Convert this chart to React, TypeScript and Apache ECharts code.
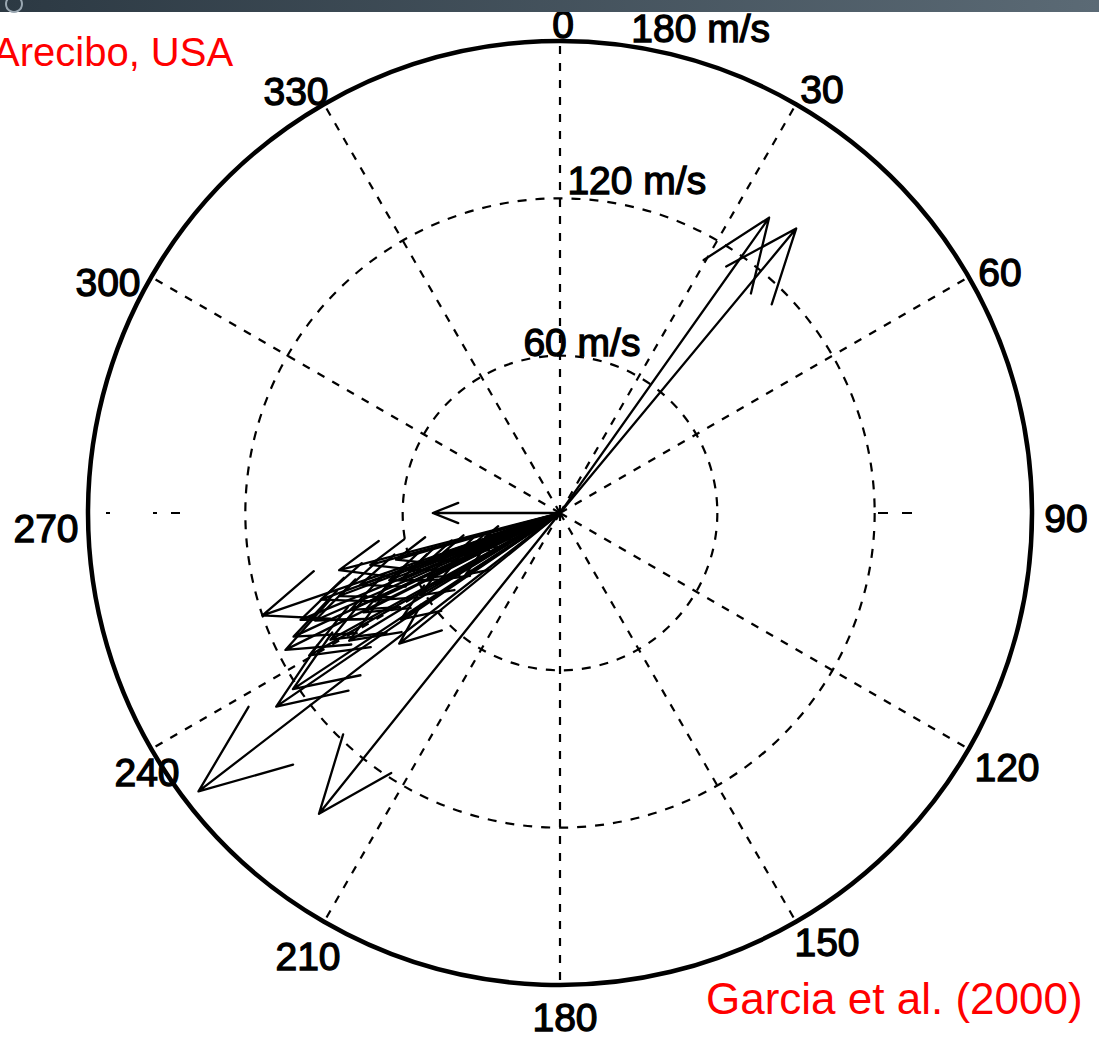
import React, { useEffect, useRef } from "react";
import * as echarts from "echarts";

// Wind vectors: direction in degrees clockwise from north, speed in m/s
const windDirection = [
  35.3, 39.7, 270, 232.4, 218.7, 235.7, 236.6, 251.0, 243.5, 230.9,
  245.1, 247.6, 250.1, 241.1, 245.2, 250.2, 244.8, 248.5, 236.2, 249.2,
  239.6, 250.1, 240.8, 248.2, 236.9, 246.4, 255.5, 254.7, 240.4, 254.1,
  238.8, 245.8, 248.0, 251.3, 244.0, 252.2, 247.1, 243.2, 249.4, 246.3,
];
const windSpeed = [
  138, 141, 48.5, 174, 147, 131, 122, 120, 117, 79,
  112, 107, 97, 100, 88, 81, 78, 70, 73, 61,
  62, 53, 52, 43, 43, 33, 87, 75, 110, 65,
  94, 25, 38, 47, 56, 30, 66, 84, 90, 102,
];

// Polar grid
const spokeAngles = [0, 30, 60, 90, 120, 150, 180, 210, 240, 270, 300, 330];
const angleLabels = ["0", "30", "60", "90", "120", "150", "180", "210", "240", "270", "300", "330"];
const ringSpeeds = [60, 120, 180];
const ringLabels = ["60 m/s", "120 m/s", "180 m/s"];
const maxSpeed = 180;

// Layout
const W = 1099;
const H = 1038;
const CX = 560;
const CY = 513;
const R = 472;
const LABEL_R = 500;
const angleLabelNudge: [number, number][] = [
  [3, 11], [12, 10], [7, 9], [6, 5], [14, 4], [17, -4],
  [5, 4], [-2, 10], [20, 9], [-14, 15], [-19, 19], [-14, 12],
];
const ringLabelNudge: [number, number][] = [[0, -15], [33, -21], [75, -17]];

// the east-west spoke is only faintly printed: a few dashes near the rim
const faintDash: Record<number, number[]> = {
  90: [0, 318, 10, 14, 10, 400],
  270: [0, 380, 9, 14, 4, 43, 4, 400],
};

const FONT = "'Liberation Sans', Arial, Helvetica, sans-serif";

export default function App() {
  const ref = useRef<HTMLDivElement>(null);

  useEffect(() => {
    if (!ref.current) return;
    const chart = echarts.init(ref.current, undefined, { renderer: "svg" });

    const arrowData = windDirection.map((d, i) => [windSpeed[i], d]);
    const spokeData = spokeAngles.map((a) => [maxSpeed, a]);

    const blackText = (txt: string, x: number, y: number) => ({
      type: "text",
      x,
      y,
      z: 10,
      style: {
        text: txt,
        fill: "#000",
        font: `39px ${FONT}`,
        align: "center",
        verticalAlign: "middle",
        stroke: "#000",
        lineWidth: 1.3,
      },
    });

    const labelTexts: any[] = angleLabels.map((txt, i) => {
      const a = (spokeAngles[i] * Math.PI) / 180;
      const [nx, ny] = angleLabelNudge[i];
      return blackText(
        txt,
        CX + LABEL_R * Math.sin(a) + nx,
        CY - LABEL_R * Math.cos(a) + ny
      );
    });

    const ringTexts: any[] = ringLabels.map((txt, i) => {
      const a = (8 * Math.PI) / 180;
      const r = (ringSpeeds[i] / maxSpeed) * R;
      const [nx, ny] = ringLabelNudge[i];
      return blackText(txt, CX + r * Math.sin(a) + nx, CY - r * Math.cos(a) + ny);
    });

    chart.setOption({
      animation: false,
      backgroundColor: "#ffffff",
      polar: { center: [CX, CY], radius: R },
      angleAxis: {
        type: "value",
        min: 0,
        max: 360,
        interval: 30,
        startAngle: 90,
        clockwise: true,
        axisLine: { show: true, lineStyle: { color: "#000", width: 4.5 } },
        axisTick: { show: false },
        axisLabel: { show: false },
        splitLine: { show: false },
      },
      radiusAxis: {
        type: "value",
        min: 0,
        max: maxSpeed,
        interval: 60,
        axisLine: { show: false },
        axisTick: { show: false },
        axisLabel: { show: false },
        splitLine: {
          show: true,
          lineStyle: { color: "#000", width: 2.2, type: [9, 9] },
        },
      },
      series: [
        {
          type: "custom",
          name: "spokes",
          coordinateSystem: "polar",
          silent: true,
          z: 1,
          data: spokeData,
          renderItem: (_p: any, api: any) => {
            const a = api.value(1);
            const o = api.coord([0, a]);
            const t = api.coord([api.value(0), a]);
            return {
              type: "line",
              shape: { x1: o[0], y1: o[1], x2: t[0], y2: t[1] },
              style: {
                stroke: "#000",
                lineWidth: 2.2,
                lineDash: faintDash[a] || [8, 9],
              },
            };
          },
        },
        {
          type: "custom",
          name: "wind",
          coordinateSystem: "polar",
          silent: true,
          z: 3,
          data: arrowData,
          renderItem: (_p: any, api: any) => {
            const r = api.value(0);
            const a = api.value(1);
            const o = api.coord([0, a]);
            const t = api.coord([r, a]);
            const dx = t[0] - o[0];
            const dy = t[1] - o[1];
            // compass-style head: barbs at 80% of the length, 8% off axis
            const b1 = [o[0] + 0.8 * dx - 0.08 * dy, o[1] + 0.8 * dy + 0.08 * dx];
            const b2 = [o[0] + 0.8 * dx + 0.08 * dy, o[1] + 0.8 * dy - 0.08 * dx];
            return {
              type: "polyline",
              shape: { points: [o, t, b1, t, b2] },
              style: {
                stroke: "#000",
                lineWidth: 2.3,
                fill: null,
                lineJoin: "round",
                lineCap: "round",
              },
            };
          },
        },
      ],
      graphic: [
        ...labelTexts,
        ...ringTexts,
        {
          type: "text",
          x: -7,
          y: 52,
          z: 10,
          style: {
            text: "Arecibo, USA",
            fill: "#ff0000",
            font: `40px ${FONT}`,
            align: "left",
            verticalAlign: "middle",
          },
        },
        {
          type: "text",
          x: 706,
          y: 998,
          z: 10,
          style: {
            text: "Garcia et al. (2000)",
            fill: "#ff0000",
            font: `44px ${FONT}`,
            align: "left",
            verticalAlign: "middle",
          },
        },
        {
          type: "rect",
          z: 20,
          shape: { x: 0, y: 0, width: W, height: 12 },
          style: {
            fill: new echarts.graphic.LinearGradient(0, 0, 1, 0, [
              { offset: 0, color: "#2c3943" },
              { offset: 1, color: "#5b6a75" },
            ]),
          },
        },
        {
          type: "circle",
          z: 21,
          shape: { cx: 14, cy: 4, r: 8 },
          style: { fill: "none", stroke: "#9aa7b1", lineWidth: 2 },
        },
      ],
    });

    return () => chart.dispose();
  }, []);

  return (
    <div
      ref={ref}
      style={{ position: "absolute", left: 0, top: 0, width: W, height: H, background: "#fff" }}
    />
  );
}
